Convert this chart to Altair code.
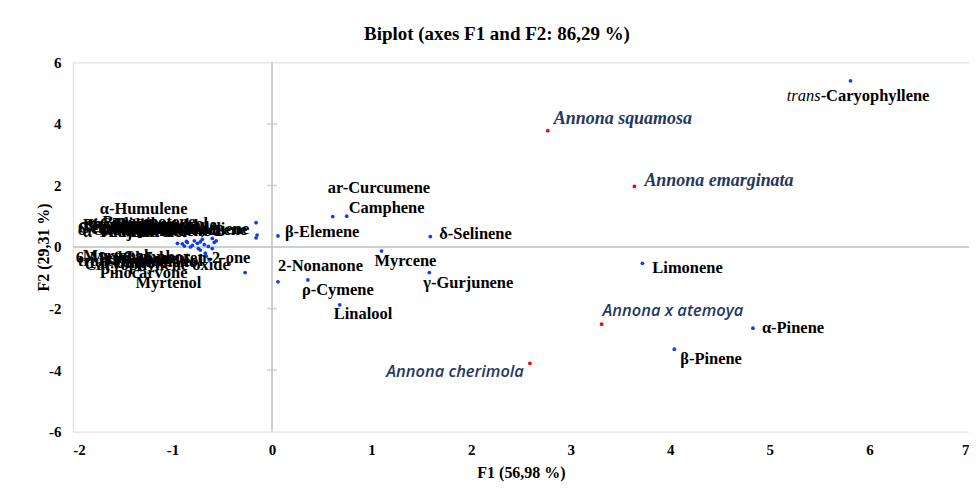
import altair as alt
import pandas as pd

# ---- compounds (variables) ----
comp_names = ["Limonene", "α-Pinene", "β-Pinene", "δ-Selinene", "γ-Gurjunene", "Myrcene",
              "ar-Curcumene", "Camphene", "β-Elemene", "2-Nonanone", "ρ-Cymene", "Linalool",
              "α-Humulene", "α-Bergamotene", "Bicyclogermacrene", "Germacrene D", "Spathulenol",
              "δ-Cadinene", "α-Copaene", "Terpinen-4-ol", "α-Terpineol", "Borneol", "Sabinene",
              "α-Thujene", "Germacrene B", "Selina-3,7(11)-diene", "γ-Cadinene", "α-Cadinol",
              "τ-Muurolol", "Aromadendrene",
              "Caryophyllene oxide", "6-Methyl-5-hepten-2-one", "trans-Pinocarveol", "Myrtenal",
              "Verbenone", "Camphor", "1,8-Cineole", "Terpinolene", "Pinocarvone", "Myrtenol"]
comp_f1 = [3.72, 4.83, 4.04, 1.59, 1.58, 1.10, 0.61, 0.75, 0.06, 0.06, 0.36, 0.68,
           -0.62, -0.90, -0.16, -0.15, -0.85, -0.80, -0.75, -0.88, -0.78, -0.70, -0.72,
           -0.95, -0.68, -0.16, -0.60, -0.82, -0.86, -0.58,
           -0.43, -0.27, -0.63, -0.72, -0.67, -0.74, -0.60, -0.66, -0.64, -0.56]
comp_f2 = [-0.53, -2.64, -3.32, 0.34, -0.83, -0.13, 0.99, 1.00, 0.36, -1.13, -1.07, -1.88,
           0.44, 0.10, 0.79, 0.39, 0.15, 0.05, 0.12, 0.03, 0.20, 0.25, 0.17,
           0.12, 0.08, 0.30, 0.28, 0.00, 0.18, 0.15,
           -0.55, -0.83, -0.42, -0.10, -0.20, -0.05, -0.05, -0.30, 0.02, 0.20]
# label anchors (left edge, vertical middle) in F1/F2 units
comp_lx = [3.82, 4.92, 4.10, 1.68, 1.52, 1.03, 0.56, 0.77, 0.13, 0.06, 0.30, 0.62,
           -1.73, -1.85, -1.90, -1.95, -1.80, -1.95, -1.70, -1.60, -1.45, -1.30, -1.20,
           -1.90, -1.50, -1.62, -1.75, -1.88, -1.65, -1.40,
           -1.88, -1.97, -1.95, -1.90, -1.70, -1.50, -1.85, -1.60, -1.73, -1.37]
comp_ly = [-0.68, -2.63, -3.64, 0.42, -1.17, -0.45, 1.92, 1.27, 0.49, -0.62, -1.40, -2.18,
           1.23, 0.80, 0.70, 0.62, 0.66, 0.55, 0.58, 0.74, 0.62, 0.68, 0.60,
           0.48, 0.52, 0.60, 0.70, 0.75, 0.50, 0.56,
           -0.58, -0.35, -0.45, -0.30, -0.40, -0.32, -0.52, -0.48, -0.85, -1.17]

# trans-Caryophyllene (label split into italic prefix + bold rest)
tc_f1 = [5.81]
tc_f2 = [5.40]
tc_lx = [5.51]
tc_ly = [4.90]
tc_prefix = ["trans"]
tc_rest = ["-Caryophyllene"]

# ---- observations (species) ----
sp_names = ["Annona squamosa", "Annona emarginata", "Annona x atemoya", "Annona cherimola"]
sp_f1 = [2.77, 3.64, 3.31, 2.59]
sp_f2 = [3.78, 1.97, -2.51, -3.78]
sp_lx = [2.83, 3.74, 3.32, 2.53]
sp_ly = [4.16, 2.14, -2.08, -4.06]

x_ticks = [-2, -1, 0, 1, 2, 3, 4, 5, 6, 7]
y_ticks = [-6, -4, -2, 0, 2, 4, 6]
zero_ticks = [-4, -2, 2, 4]

comp = pd.DataFrame({"name": comp_names, "F1": comp_f1, "F2": comp_f2,
                     "lx": comp_lx, "ly": comp_ly})
tc = pd.DataFrame({"F1": tc_f1, "F2": tc_f2, "lx": tc_lx, "ly": tc_ly,
                   "pre": tc_prefix, "rest": tc_rest})
sp = pd.DataFrame({"name": sp_names, "F1": sp_f1, "F2": sp_f2, "lx": sp_lx, "ly": sp_ly})
sp_serif = sp.iloc[:2]
sp_sans_l = sp.iloc[2:3]
sp_sans_r = sp.iloc[3:4]

xs = alt.Scale(domain=[-2, 7], nice=False)
ys = alt.Scale(domain=[-6, 6], nice=False)

SERIF = "Liberation Serif"
LBL = 16.5
axis_common = dict(labelFont=SERIF, labelFontWeight="bold", labelFontSize=15,
                   labelColor="#000000", ticks=False, domain=False, grid=False,
                   titleFont=SERIF, titleFontWeight="bold", titleFontSize=16,
                   titleColor="#000000", labelExpr="'' + datum.value")

x_enc = alt.X("F1:Q", scale=xs,
              axis=alt.Axis(values=x_ticks, title="F1 (56,98 %)", labelPadding=11,
                            titlePadding=7, **axis_common))
y_enc = alt.Y("F2:Q", scale=ys,
              axis=alt.Axis(values=y_ticks, title="F2 (29,31 %)", labelPadding=12,
                            titlePadding=-3, **axis_common))

zero_x = alt.Chart(pd.DataFrame({"F1": [0]})).mark_rule(color="#BFBFBF", strokeWidth=1.5).encode(
    x=alt.X("F1:Q", scale=xs))
zero_y = alt.Chart(pd.DataFrame({"F2": [0]})).mark_rule(color="#BFBFBF", strokeWidth=1.5).encode(
    y=alt.Y("F2:Q", scale=ys))
zticks = alt.Chart(pd.DataFrame({"F1": [0] * len(zero_ticks), "F2": zero_ticks})).mark_tick(
    orient="horizontal", color="#BFBFBF", size=10, thickness=1.5).encode(
    x=alt.X("F1:Q", scale=xs), y=alt.Y("F2:Q", scale=ys))

base_pts = alt.Chart(comp).mark_circle(color="#0A3CFF", size=14, opacity=1).encode(x=x_enc, y=y_enc)
tc_pts = alt.Chart(tc).mark_circle(color="#0A3CFF", size=14, opacity=1).encode(
    x=alt.X("F1:Q", scale=xs), y=alt.Y("F2:Q", scale=ys))
sp_pts = alt.Chart(sp).mark_circle(color="#FF0000", size=14, opacity=1).encode(
    x=alt.X("F1:Q", scale=xs), y=alt.Y("F2:Q", scale=ys))

comp_lbl = alt.Chart(comp).mark_text(align="left", baseline="middle", font=SERIF,
                                     fontWeight="bold", fontSize=LBL, color="#000000").encode(
    x=alt.X("lx:Q", scale=xs), y=alt.Y("ly:Q", scale=ys), text="name:N")
tc_pre = alt.Chart(tc).mark_text(align="right", baseline="middle", font=SERIF,
                                 fontStyle="italic", fontSize=LBL, color="#000000").encode(
    x=alt.X("lx:Q", scale=xs), y=alt.Y("ly:Q", scale=ys), text="pre:N")
tc_rest_l = alt.Chart(tc).mark_text(align="left", baseline="middle", font=SERIF,
                                    fontWeight="bold", fontSize=LBL, color="#000000").encode(
    x=alt.X("lx:Q", scale=xs), y=alt.Y("ly:Q", scale=ys), text="rest:N")

SPC = "#1F3864"
sp_lbl1 = alt.Chart(sp_serif).mark_text(align="left", baseline="middle", font=SERIF,
                                        fontWeight="bold", fontStyle="italic", fontSize=18,
                                        color=SPC).encode(
    x=alt.X("lx:Q", scale=xs), y=alt.Y("ly:Q", scale=ys), text="name:N")
sp_lbl2 = alt.Chart(sp_sans_l).mark_text(align="left", baseline="middle", font="Open Sans",
                                         fontStyle="italic", fontWeight=600, fontSize=16.5,
                                         color=SPC).encode(
    x=alt.X("lx:Q", scale=xs), y=alt.Y("ly:Q", scale=ys), text="name:N")
sp_lbl3 = alt.Chart(sp_sans_r).mark_text(align="right", baseline="middle", font="Open Sans",
                                         fontStyle="italic", fontWeight=600, fontSize=16.5,
                                         color=SPC).encode(
    x=alt.X("lx:Q", scale=xs), y=alt.Y("ly:Q", scale=ys), text="name:N")

chart = alt.layer(
    zero_x, zero_y, zticks, base_pts, tc_pts, sp_pts,
    comp_lbl, tc_pre, tc_rest_l, sp_lbl1, sp_lbl2, sp_lbl3
).properties(
    width=898, height=370,
    title=alt.TitleParams("Biplot (axes F1 and F2: 86,29 %)", font=SERIF, fontWeight="bold",
                          fontSize=19, color="#000000", offset=11, dx=-24),
    autosize=alt.AutoSizeParams(type="none"),
    padding={"left": 65, "top": 54, "right": 0, "bottom": 54},
).configure_view(stroke="#C8C8C8", strokeWidth=1.5).configure(background="#FFFFFF")

chart.save("out.html", embed_options={"renderer": "svg", "actions": False})
